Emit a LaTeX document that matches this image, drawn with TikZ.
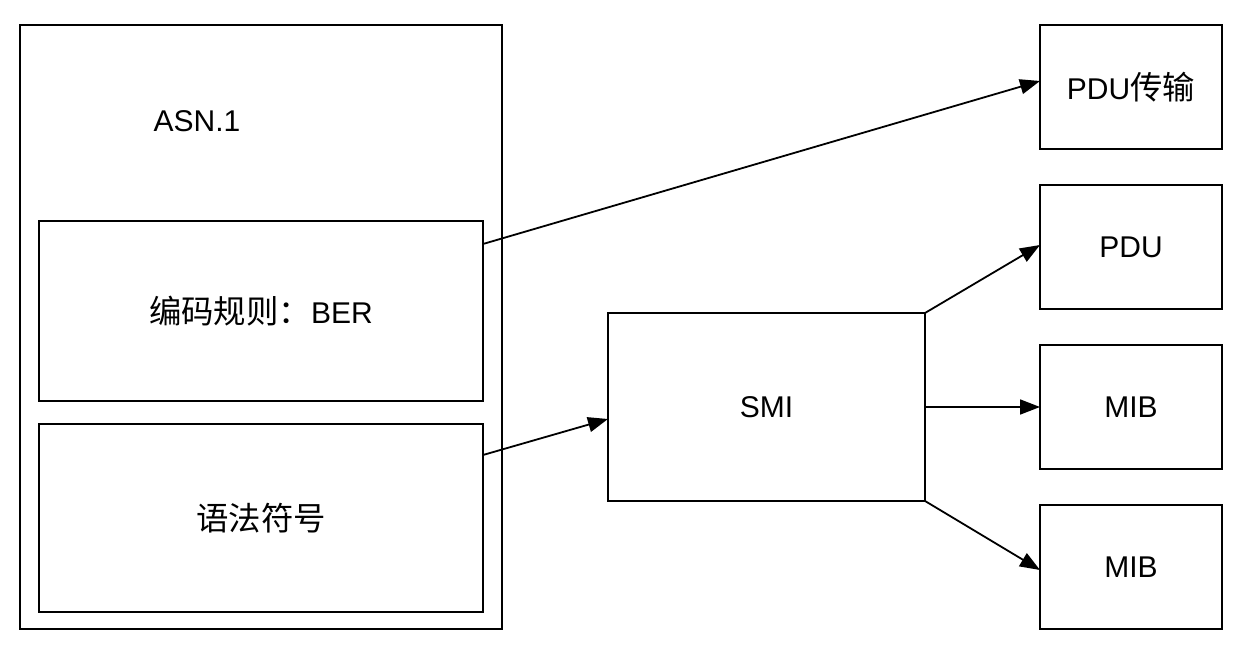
\documentclass[tikz,border=0pt]{standalone}
\usepackage{fontspec}
\setmainfont{Liberation Sans}
\newfontfamily\cjk[Scale=1.08]{Noto Sans CJK SC}
\usetikzlibrary{arrows.meta}
\begin{document}
\begin{tikzpicture}[x=1pt,y=-1pt,
  box/.style={draw,line width=2pt,inner sep=0pt,outer sep=0pt,font=\fontsize{30}{34}\selectfont},
  lbl/.style={inner sep=0pt,font=\fontsize{30}{34}\selectfont},
  conn/.style={line width=1.8pt,-{Triangle[length=20pt,width=15pt]}}]
\useasboundingbox[fill=white] (0,0) rectangle (1242,652);
\node[box,minimum width=482pt,minimum height=604pt] (outer) at (261,327) {};
\node[lbl] (asn) at (197,121) {ASN.1};
\node[box,minimum width=444pt,minimum height=180pt] (ber) at (261,311) {{\cjk 编码规则：}BER};
\node[box,minimum width=444pt,minimum height=188pt] (syn) at (261,518) {\cjk 语法符号};
\node[box,minimum width=317pt,minimum height=188pt] (smi) at (766.5,407) {SMI};
\node[box,minimum width=182pt,minimum height=124pt] (pdut) at (1131,87) {PDU{\cjk 传输}};
\node[box,minimum width=182pt,minimum height=124pt] (pdu) at (1131,247) {PDU};
\node[box,minimum width=182pt,minimum height=124pt] (mib1) at (1131,407) {MIB};
\node[box,minimum width=182pt,minimum height=124pt] (mib2) at (1131,567) {MIB};
\draw[conn] ([yshift=-23pt]ber.north east) -- ([yshift=6pt]pdut.west);
\draw[conn] ([yshift=-31pt]syn.north east) -- ([yshift=-12pt]smi.west);
\draw[conn] (smi.north east) -- ([yshift=2pt]pdu.west);
\draw[conn] (smi.east) -- (mib1.west);
\draw[conn] (smi.south east) -- ([yshift=-3pt]mib2.west);
\end{tikzpicture}
\end{document}
